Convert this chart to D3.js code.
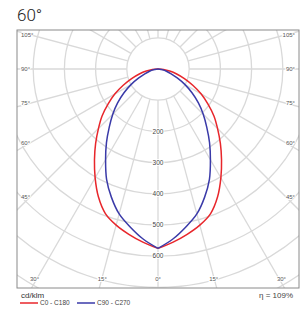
<!DOCTYPE html>
<html>
<head>
<meta charset="utf-8">
<script src="https://cdn.jsdelivr.net/npm/d3@7"></script>
<style>
  body { margin: 0; background: #fff; }
  svg { display: block; font-family: "Liberation Sans", Arial, sans-serif; }
</style>
</head>
<body>
<div class="polarChart"></div>
<script>
var width = 306, height = 309

// angles in degrees, 0 = straight down
var angles = [0, 5, 10, 15, 20, 25, 30, 35, 40, 45, 50, 55, 60, 65, 70, 75, 80, 85, 90]
// cd/klm
var c0c180 = [575, 557, 538, 518, 493, 452, 403, 355, 311, 270, 234, 195, 160, 123, 90, 62, 38, 18, 0]
var c90c270 = [575, 547, 514, 481, 437, 390, 336, 288, 243, 205, 169, 133, 100, 68, 45, 28, 15, 5, 0]

var ringValues = [100, 200, 300, 400, 500, 600, 700, 800, 900]
var ringLabels = [200, 300, 400, 500, 600]
var leftLabels = [105, 90, 75, 60, 45]
var bottomLabels = [30, 15, 0]

var series = [
    { name: 'C0 - C180', values: c0c180, color: '#e8262b' },
    { name: 'C90 - C270', values: c90c270, color: '#3a3aa8' }
]

function drawGraph() {
    var frame = { x0: 17, y0: 30, x1: 299, y1: 288 }
    var cx = 158, cy = 69

    var r = d3.scaleLinear().domain([0, 100]).range([0, 31.2])
    var toRad = function(deg) { return deg * Math.PI / 180 }

    const svg = d3.select('.polarChart')
        .append('svg')
        .attr('width', width)
        .attr('height', height)

    svg.append('clipPath').attr('id', 'frameClip')
        .append('rect')
        .attr('x', frame.x0).attr('y', frame.y0)
        .attr('width', frame.x1 - frame.x0).attr('height', frame.y1 - frame.y0)

    var grid = svg.append('g')
        .attr('clip-path', 'url(#frameClip)')
        .append('g')
        .attr('transform', 'translate(' + cx + ',' + cy + ')')

    // rings
    grid.selectAll('circle.ring')
        .data(ringValues)
        .enter()
        .append('circle')
        .attr('r', function(d) { return r(d) })
        .attr('fill', 'none')
        .attr('stroke', '#d9d9d9')
        .attr('stroke-width', 1.3)

    // spokes every 15 deg, starting at the first ring
    var spokes = d3.range(0, 360, 15)
    grid.selectAll('line.spoke')
        .data(spokes)
        .enter()
        .append('line')
        .attr('x1', function(d) { return r(100) * Math.sin(toRad(d)) })
        .attr('y1', function(d) { return r(100) * Math.cos(toRad(d)) })
        .attr('x2', function(d) { return r(1200) * Math.sin(toRad(d)) })
        .attr('y2', function(d) { return r(1200) * Math.cos(toRad(d)) })
        .attr('stroke', '#d9d9d9')
        .attr('stroke-width', 1.3)

    // curves: each half drawn separately so the tip stays sharp
    var line = d3.lineRadial()
        .curve(d3.curveCatmullRom)
        .angle(function(d) { return d[0] })
        .radius(function(d) { return r(d[1]) })

    series.forEach(function(s) {
        var right = angles.map(function(a, i) { return [Math.PI - toRad(a), s.values[i]] })
        var left = angles.map(function(a, i) { return [Math.PI + toRad(a), s.values[i]] })
        ;[right, left].forEach(function(half) {
            grid.append('path')
                .attr('d', line(half))
                .attr('fill', 'none')
                .attr('stroke', s.color)
                .attr('stroke-width', 1.5)
        })
    })

    // ring labels along 0 deg
    grid.selectAll('text.ring')
        .data(ringLabels)
        .enter()
        .append('text')
        .attr('x', 0)
        .attr('y', function(d) { return r(d) })
        .attr('dy', '0.35em')
        .attr('text-anchor', 'middle')
        .style('font-size', '6.5px')
        .style('fill', '#444')
        .style('stroke', '#fff')
        .style('stroke-width', 2)
        .style('paint-order', 'stroke')
        .text(function(d) { return d })

    // frame
    svg.append('rect')
        .attr('x', frame.x0).attr('y', frame.y0)
        .attr('width', frame.x1 - frame.x0).attr('height', frame.y1 - frame.y0)
        .attr('fill', 'none')
        .attr('stroke', '#8a8a8a')
        .attr('stroke-width', 1)

    // side angle labels
    var labelDx = 128
    leftLabels.forEach(function(a) {
        var y = cy + labelDx * Math.cos(toRad(a)) / Math.sin(toRad(a))
        svg.append('text')
            .attr('x', frame.x0 + 4).attr('y', y).attr('dy', '0.35em')
            .style('font-size', '6px').style('fill', '#555')
            .style('stroke', '#fff').style('stroke-width', 2).style('paint-order', 'stroke')
            .text(a + '°')
        svg.append('text')
            .attr('x', frame.x1 - 4).attr('y', y).attr('dy', '0.35em')
            .attr('text-anchor', 'end')
            .style('font-size', '6px').style('fill', '#555')
            .style('stroke', '#fff').style('stroke-width', 2).style('paint-order', 'stroke')
            .text(a + '°')
    })

    // bottom angle labels
    bottomLabels.forEach(function(a) {
        var xb = (frame.y1 - cy) * Math.tan(toRad(a))
        var sides = a === 0 ? [0] : [-1, 1]
        sides.forEach(function(sgn) {
            svg.append('text')
                .attr('x', cx + sgn * (xb - 3))
                .attr('y', frame.y1 - 9).attr('dy', '0.35em')
                .attr('text-anchor', 'middle')
                .style('font-size', '6px').style('fill', '#555')
                .style('stroke', '#fff').style('stroke-width', 2).style('paint-order', 'stroke')
                .text(a + '°')
        })
    })

    // title
    svg.append('text')
        .attr('x', 17).attr('y', 21)
        .style('font-family', 'Roboto, "Liberation Sans", sans-serif')
        .style('font-weight', 300)
        .style('font-size', '17px')
        .style('fill', '#222')
        .text('60°')

    // unit + legend
    svg.append('text')
        .attr('x', 21).attr('y', 298)
        .style('font-size', '8px').style('fill', '#333')
        .text('cd/klm')

    var legendX = [20, 77]
    series.forEach(function(s, i) {
        svg.append('line')
            .attr('x1', legendX[i]).attr('x2', legendX[i] + 18)
            .attr('y1', 303).attr('y2', 303)
            .attr('stroke', s.color).attr('stroke-width', 1.5)
        svg.append('text')
            .attr('x', legendX[i] + 20).attr('y', 303).attr('dy', '0.35em')
            .style('font-size', '6.5px').style('fill', '#444')
            .text(s.name)
    })

    svg.append('text')
        .attr('x', 293).attr('y', 298)
        .attr('text-anchor', 'end')
        .style('font-size', '8px').style('fill', '#444')
        .text('η = 109%')
}

drawGraph()
</script>
</body>
</html>
